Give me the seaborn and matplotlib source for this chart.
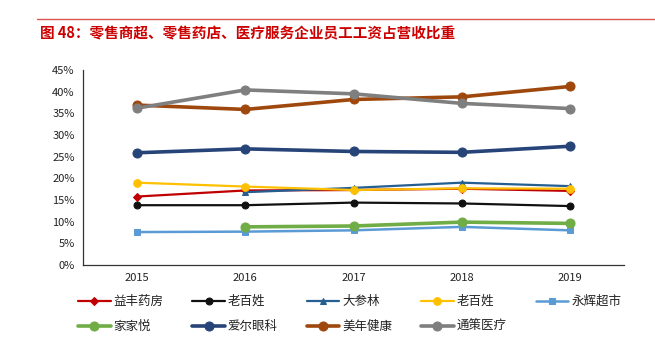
import numpy as np
import pandas as pd
import matplotlib
matplotlib.use("Agg")
import matplotlib.pyplot as plt
import seaborn as sns
from matplotlib.ticker import FixedLocator, NullFormatter, FuncFormatter

years = ["2015", "2016", "2017", "2018", "2019"]

yifeng = [15.8, 17.2, 17.3, 17.6, 17.1]          # 益丰药房
laobaixing_black = [13.8, 13.8, 14.4, 14.2, 13.6]  # 老百姓 (black)
dashenlin = [np.nan, 16.8, 17.8, 19.0, 18.2]     # 大参林
laobaixing_yellow = [19.0, 18.1, 17.3, 17.7, 17.6] # 老百姓 (yellow)
yonghui = [7.6, 7.7, 8.0, 8.8, 8.0]              # 永辉超市
jiajiayue = [np.nan, 8.8, 9.0, 9.9, 9.6]         # 家家悦
aier = [25.9, 26.8, 26.2, 26.0, 27.4]            # 爱尔眼科
meinian = [36.9, 35.9, 38.2, 38.8, 41.2]         # 美年健康
tongce = [36.2, 40.4, 39.5, 37.3, 36.1]          # 通策医疗

series = [
    ("益丰药房", yifeng, "#C00000", "D", 1.6, 4.5),
    ("老百姓", laobaixing_black, "#111111", "o", 1.6, 5),
    ("大参林", dashenlin, "#255E91", "^", 1.6, 5),
    ("老百姓", laobaixing_yellow, "#FFC000", "o", 1.6, 5.5),
    ("永辉超市", yonghui, "#5B9BD5", "s", 1.8, 5),
    ("家家悦", jiajiayue, "#70AD47", "o", 2.6, 6.5),
    ("爱尔眼科", aier, "#264478", "o", 2.6, 6.5),
    ("美年健康", meinian, "#9E480E", "o", 2.6, 6.5),
    ("通策医疗", tongce, "#7F7F7F", "o", 2.6, 6.5),
]

sns.set_style("white")
plt.rcParams["font.family"] = ["Noto Sans CJK SC", "DejaVu Sans"]

fig = plt.figure(figsize=(6.55, 3.55), dpi=100)
ax = fig.add_axes([83 / 655, (355 - 265) / 355, 541 / 655, 195 / 355])

handles = []
for name, vals, color, marker, lw, ms in series:
    df = pd.DataFrame({"x": np.arange(len(years)), "y": vals})
    sns.lineplot(data=df, x="x", y="y", ax=ax, color=color, marker=marker,
                 linewidth=lw, markersize=ms, markeredgecolor=color,
                 label=name, legend=False)
    handles.append(ax.lines[-1])

ax.set_xlim(-0.5, 4.5)
ax.set_ylim(0, 45)
ax.set_xlabel("")
ax.set_ylabel("")

ax.xaxis.set_major_locator(FixedLocator(np.arange(-0.5, 5.0, 1.0)))
ax.xaxis.set_major_formatter(NullFormatter())
ax.xaxis.set_minor_locator(FixedLocator(np.arange(0, 5)))
ax.set_xticklabels(years, minor=True)
ax.tick_params(axis="x", which="major", direction="in", length=4, width=0.8, color="#333333")
ax.tick_params(axis="x", which="minor", length=0, labelsize=8, pad=6, labelcolor="#222222")

ax.set_yticks(np.arange(0, 46, 5))
ax.yaxis.set_major_formatter(FuncFormatter(lambda v, p: f"{int(v)}%"))
ax.tick_params(axis="y", direction="out", length=4, width=0.8, color="#333333",
               labelsize=8, labelcolor="#222222", pad=2)

for s in ["top", "right"]:
    ax.spines[s].set_visible(False)
for s in ["left", "bottom"]:
    ax.spines[s].set_color("#333333")
    ax.spines[s].set_linewidth(0.9)

labels = [s[0] for s in series]
order = [0, 5, 1, 6, 2, 7, 3, 8, 4]
leg = fig.legend([handles[i] for i in order], [labels[i] for i in order],
                 ncol=5, loc="upper left", bbox_to_anchor=(68 / 655, 1 - 285 / 355),
                 frameon=False, fontsize=9, handlelength=2.6, handletextpad=0.25,
                 columnspacing=2.3, labelspacing=0.95, borderpad=0.3)
for t in leg.get_texts():
    t.set_color("#222222")

# Title and red rule
fig.add_artist(plt.Line2D([37 / 655, 1.0], [1 - 19 / 355, 1 - 19 / 355],
                          color="#D9534F", linewidth=1.0, transform=fig.transFigure))
fig.text(40 / 655, 1 - 33 / 355, "图 48：零售商超、零售药店、医疗服务企业员工工资占营收比重",
         color="#CC0000", fontsize=10.5, fontweight="bold", va="center", ha="left")

fig.savefig("out.png", dpi=100)
